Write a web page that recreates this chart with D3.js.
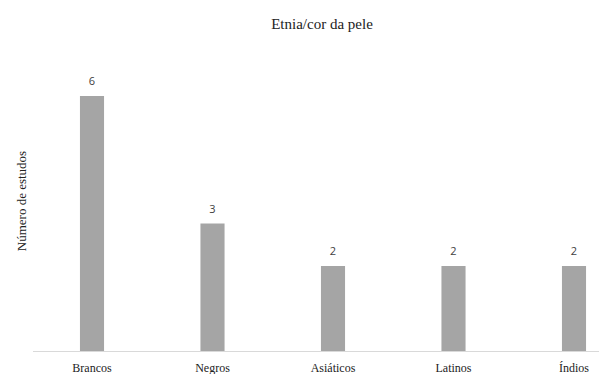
<!DOCTYPE html>
<html>
<head>
<meta charset="utf-8">
<script src="https://cdn.jsdelivr.net/npm/d3@7"></script>
<style>
  html, body { margin: 0; padding: 0; background: #fff; }
  svg { display: block; }
  .serif { font-family: "Liberation Serif", "Tinos", "Times New Roman", Times, serif; }
</style>
</head>
<body>
<svg id="chart" width="599" height="374"></svg>
<script>
// Number of studies per ethnicity / skin colour
const categories = ["Brancos", "Negros", "Asiáticos", "Latinos", "Índios"];
const values = [6, 3, 2, 2, 2];
const chartTitle = "Etnia/cor da pele";
const yAxisTitle = "Número de estudos";

const svg = d3.select("#chart");
const baseline = 351;

const x = d3.scaleBand()
  .domain(categories)
  .range([31.75, 634.25])
  .paddingInner(0.8)
  .paddingOuter(0.4);

const y = d3.scaleLinear()
  .domain([0, 7])
  .range([baseline, 53.5]);

// bars
svg.append("g")
  .selectAll("rect")
  .data(values)
  .join("rect")
  .attr("x", (d, i) => x(categories[i]))
  .attr("width", x.bandwidth())
  .attr("y", d => y(d))
  .attr("height", d => baseline - y(d))
  .attr("fill", "#a5a5a5");

// value labels
svg.append("g")
  .selectAll("text")
  .data(values)
  .join("text")
  .attr("x", (d, i) => x(categories[i]) + x.bandwidth() / 2)
  .attr("y", d => y(d) - 11)
  .attr("text-anchor", "middle")
  .style("font-family", "'Open Sans', 'DejaVu Sans', sans-serif")
  .style("font-size", "11px")
  .attr("fill", "#404040")
  .text(d => d);

// category axis
const xAxis = svg.append("g")
  .attr("transform", `translate(0,${baseline})`)
  .call(d3.axisBottom(x).tickSize(0).tickPadding(12));
xAxis.attr("font-family", null);
xAxis.select(".domain").attr("stroke", "#d9d9d9").attr("d", "M33,0.5H599");
xAxis.selectAll("text")
  .attr("class", "serif")
  .style("font-size", "12px")
  .attr("fill", "#222");

// titles
svg.append("text")
  .attr("class", "serif")
  .attr("x", 322)
  .attr("y", 29)
  .attr("text-anchor", "middle")
  .style("font-size", "15px")
  .attr("fill", "#222")
  .text(chartTitle);

svg.append("text")
  .attr("class", "serif")
  .attr("transform", "translate(26,201) rotate(-90)")
  .attr("text-anchor", "middle")
  .style("font-size", "13px")
  .attr("fill", "#222")
  .text(yAxisTitle);
</script>
</body>
</html>
